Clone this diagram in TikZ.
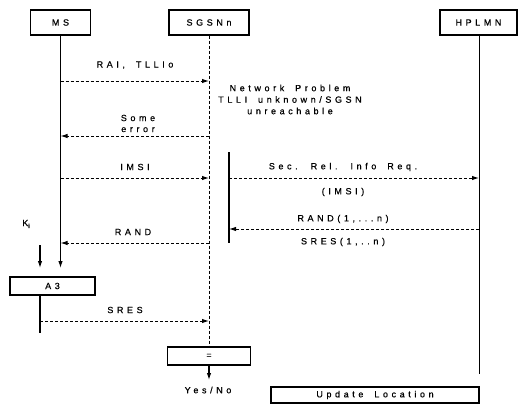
\documentclass[tikz,border=0pt]{standalone}
\usepackage{fontspec}
\setmainfont{Liberation Sans}[LetterSpace=40, FakeBold=0.6, WordSpace=1.8]
\usetikzlibrary{arrows.meta}
\tikzset{
  lbl/.style={font=\fontsize{9}{10.5}\selectfont, inner sep=0pt, align=center},
  box/.style={draw, line width=1.2pt, minimum height=25pt, inner sep=0pt, font=\fontsize{9}{10.5}\selectfont},
  tip/.style={-{Latex[length=7pt,width=4.5pt]}},
  msg/.style={densely dashed, line width=1pt, tip},
  life/.style={line width=1.1pt},
}
\begin{document}
\begin{tikzpicture}[x=1pt,y=-1pt]
\useasboundingbox (0,0) rectangle (530,405);
% heads
\node[box, minimum width=60pt] (ms) at (60.5,22.5) {MS};
\node[box, minimum width=80pt] (sgsn) at (209,22.5) {SGSNn};
\node[box, minimum width=77pt] (hplmn) at (478.5,22.5) {HPLMN};
% A3 and compare boxes
\node[box, minimum width=85pt, minimum height=18pt] (a3) at (52.5,286) {A3};
\node[box, minimum width=83pt, minimum height=18pt] (cmp) at (209,356) {=};
\node[box, minimum width=208pt, minimum height=16pt] (upd) at (375,395) {Update Location};
% coordinates
\coordinate (msend) at (60.5,268);
\coordinate (kitop) at (40,245);
\coordinate (kiend) at (40,268);
\coordinate (sresend) at (40,333);
\coordinate (hpend) at (479,374);
\coordinate (barT) at (229,152);
\coordinate (barB) at (229,243);
\coordinate (yn) at (209,380);
% lifelines
\draw[life, tip] (ms.south) -- (msend);
\draw[line width=0.8pt, densely dashed] (sgsn.south) -- (cmp.north);
\draw[line width=0.9pt] (hplmn.south -| hpend) -- (hpend);
\draw[line width=1.2pt] (barT) -- (barB);
\draw[life, tip] (kitop) -- (kiend);
\draw[life] (a3.south -| sresend) -- (sresend);
\draw[life, tip] (cmp.south) -- (yn);
% labels
\node[lbl] (ki) at (26,224) {K\raisebox{-2pt}{\fontsize{6}{6}\selectfont i}};
\node[lbl] (yesno) at (208,390) {Yes/No};
% messages MS <-> SGSN
\coordinate (m1a) at (60.5,81);  \coordinate (m1b) at (209,81);
\coordinate (m2a) at (60.5,136); \coordinate (m2b) at (209,136);
\coordinate (m3a) at (60.5,178); \coordinate (m3b) at (209,178);
\coordinate (m4a) at (60.5,243); \coordinate (m4b) at (209,243);
\coordinate (m5a) at (40,321);   \coordinate (m5b) at (209,321);
\draw[msg] (m1a) -- (m1b);
\draw[msg] (m2b) -- (m2a);
\draw[msg] (m3a) -- (m3b);
\draw[msg] (m4b) -- (m4a);
\draw[msg] (m5a) -- (m5b);
\node[lbl] (l1) at (135,65) {RAI, TLLIo};
\node[lbl] (l2) at (138,123.5) {Some\\[0.5pt]error};
\node[lbl] (l3) at (135,167) {IMSI};
\node[lbl] (l4) at (133,232) {RAND};
\node[lbl] (l5) at (125,310) {SRES};
\node[lbl] (np) at (290,99.5) {Network Problem\\[1pt]TLLI unknown/SGSN\\[1pt]unreachable};
% messages SGSN <-> HPLMN
\coordinate (h1a) at (229,178); \coordinate (h1b) at (479,178);
\coordinate (h2a) at (229,229); \coordinate (h2b) at (479,229);
\draw[msg] (h1a) -- (h1b);
\draw[msg] (h2b) -- (h2a);
\node[lbl] (s1) at (343,167) {Sec. Rel. Info Req.};
\node[lbl] (s2) at (343,192) {(IMSI)};
\node[lbl] (s3) at (343,219) {RAND(1,...n)};
\node[lbl] (s4) at (343,242) {SRES(1,..n)};
\end{tikzpicture}
\end{document}
